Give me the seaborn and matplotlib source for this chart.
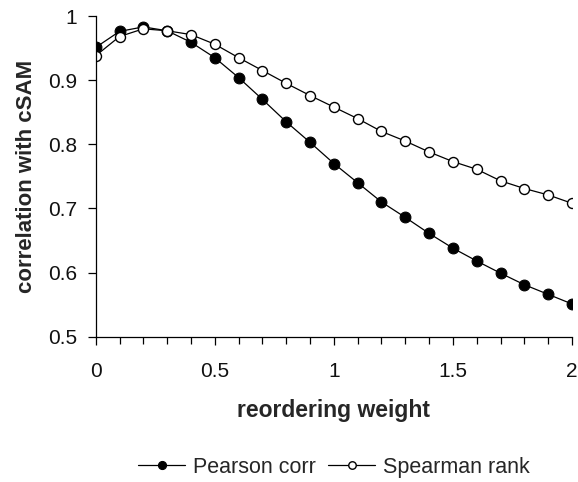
import matplotlib
matplotlib.use("Agg")
import matplotlib.pyplot as plt
import seaborn as sns
import pandas as pd
from matplotlib.ticker import MultipleLocator

weights = [0.0, 0.1, 0.2, 0.3, 0.4, 0.5, 0.6, 0.7, 0.8, 0.9, 1.0,
           1.1, 1.2, 1.3, 1.4, 1.5, 1.6, 1.7, 1.8, 1.9, 2.0]
pearson = [0.951, 0.976, 0.983, 0.977, 0.959, 0.935, 0.904, 0.870, 0.835, 0.803, 0.770,
           0.740, 0.710, 0.686, 0.661, 0.638, 0.618, 0.599, 0.581, 0.566, 0.551]
spearman = [0.938, 0.968, 0.980, 0.977, 0.971, 0.956, 0.935, 0.915, 0.895, 0.876, 0.858,
            0.840, 0.820, 0.805, 0.788, 0.773, 0.761, 0.743, 0.731, 0.721, 0.708]
series_names = ["Pearson corr", "Spearman rank"]

sns.set_style("white")
plt.rcParams["font.family"] = ["Liberation Sans", "DejaVu Sans"]

fig = plt.figure(figsize=(5.78, 4.82), dpi=100)
ax = fig.add_axes([0.1656, 0.3015, 0.824, 0.6653])

df_p = pd.DataFrame({"w": weights, "v": pearson})
df_s = pd.DataFrame({"w": weights, "v": spearman})

sns.lineplot(data=df_p, x="w", y="v", ax=ax, color="black", lw=0.9,
             marker="o", markersize=7.8, markerfacecolor="black",
             markeredgecolor="black", label=series_names[0])
sns.lineplot(data=df_s, x="w", y="v", ax=ax, color="black", lw=0.9,
             marker="o", markersize=7.2, markerfacecolor="white",
             markeredgecolor="black", markeredgewidth=1.0, label=series_names[1])

ax.set_xlim(0, 2)
ax.set_ylim(0.5, 1.0)
ax.xaxis.set_major_locator(MultipleLocator(0.5))
ax.xaxis.set_minor_locator(MultipleLocator(0.1))
ax.yaxis.set_major_locator(MultipleLocator(0.1))
ax.xaxis.set_major_formatter(plt.FuncFormatter(lambda v, p: f"{v:g}"))
ax.yaxis.set_major_formatter(plt.FuncFormatter(lambda v, p: f"{v:g}"))

for s in ["top", "right"]:
    ax.spines[s].set_visible(False)
for s in ["left", "bottom"]:
    ax.spines[s].set_color("black")
    ax.spines[s].set_linewidth(0.9)

ax.tick_params(axis="both", which="major", direction="out", length=6, width=0.9,
               color="black", labelsize=15, labelcolor="#111111")
ax.tick_params(axis="x", which="minor", direction="out", length=5, width=0.9,
               color="black", bottom=True)
ax.tick_params(axis="x", which="major", pad=12)
ax.tick_params(axis="y", which="major", pad=7.5)
ax.tick_params(axis="x", bottom=True, which="both")
ax.tick_params(axis="y", left=True)

ax.set_xlabel("reordering weight", fontsize=16.5, fontweight="bold", labelpad=13)
ax.set_ylabel("correlation with cSAM", fontsize=16, fontweight="bold", labelpad=7.5)

handles, labels = ax.get_legend_handles_labels()
ax.get_legend().remove()
fig.legend(handles, labels, loc="center", bbox_to_anchor=(0.578, 0.031), ncol=2,
           frameon=False, fontsize=15.5, markerscale=0.75, handlelength=2.2,
           columnspacing=0.55, handletextpad=0.37, borderpad=0.2)

fig.savefig("out.png", dpi=100)
